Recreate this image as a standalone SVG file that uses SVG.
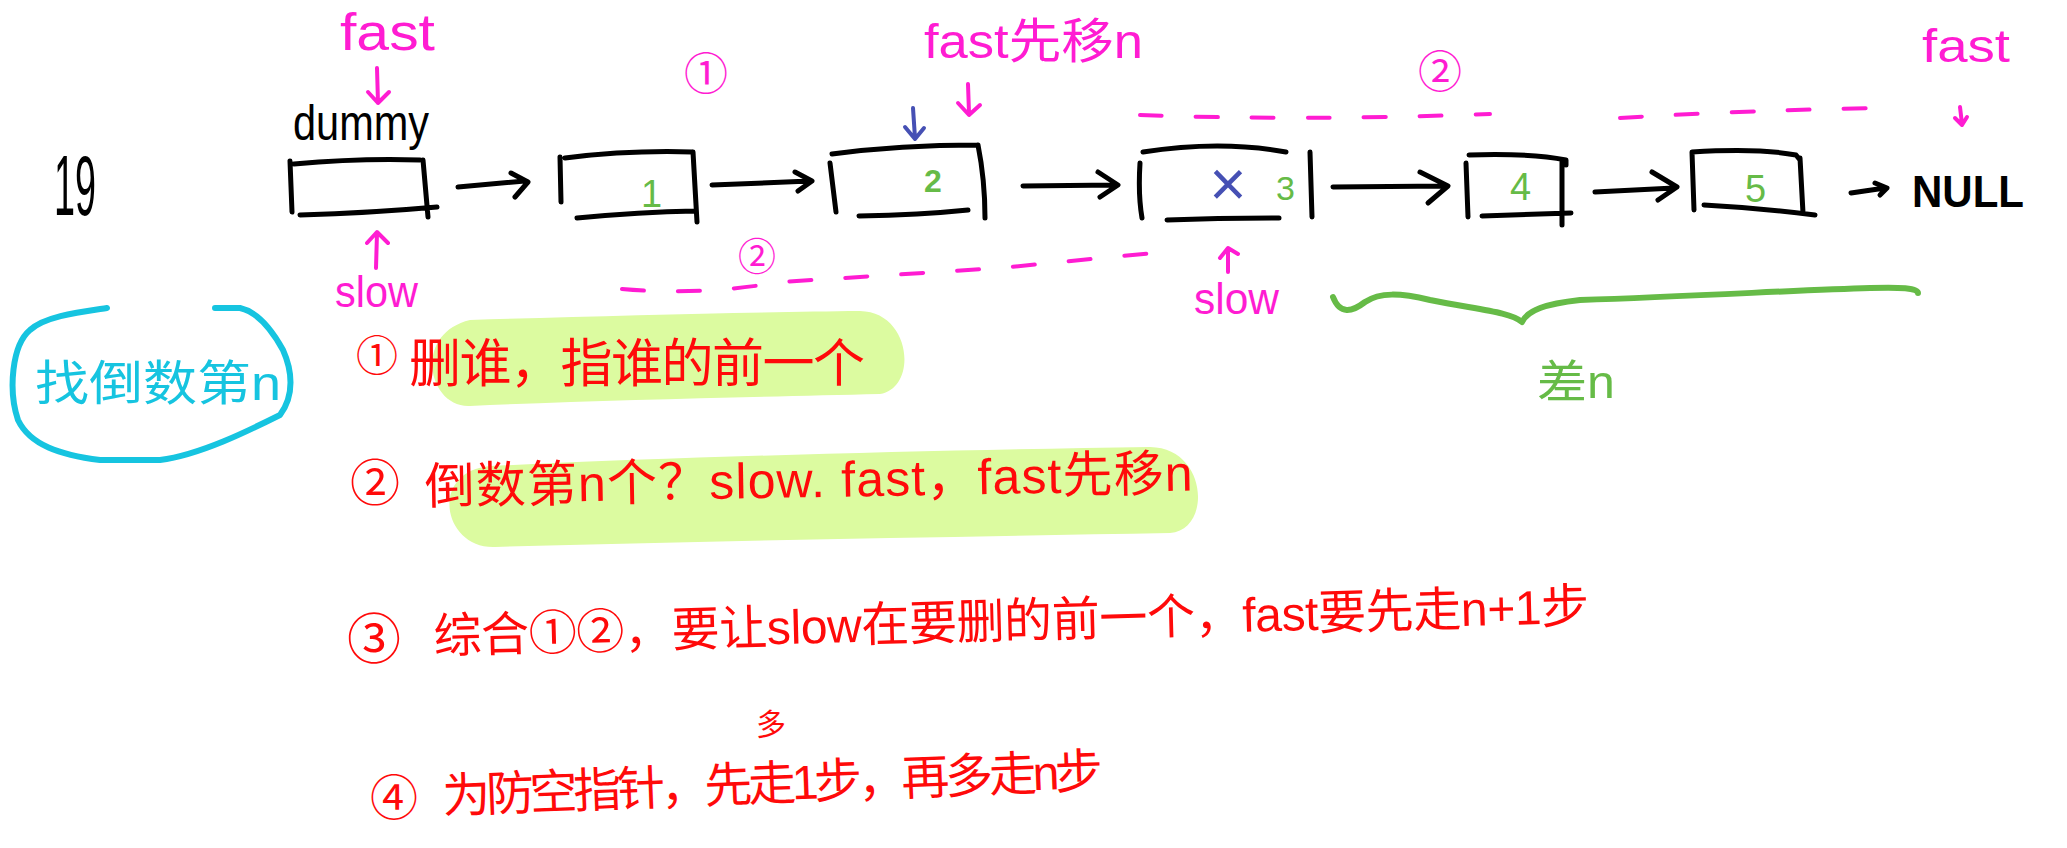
<svg xmlns="http://www.w3.org/2000/svg" width="2067" height="848" viewBox="0 0 2067 848">
<style>
.bx{fill:none;stroke:#000;stroke-width:5;stroke-linecap:round;stroke-linejoin:round}
.ar{fill:none;stroke:#000;stroke-width:5;stroke-linecap:round;stroke-linejoin:round}
.pk{fill:none;stroke:#FF1CD2;stroke-width:4;stroke-linecap:round;stroke-linejoin:round}
.dash{fill:none;stroke:#FF1CD2;stroke-width:4;stroke-linecap:round;stroke-dasharray:22 34}
.t{font-family:"Liberation Sans","Noto Sans CJK SC",sans-serif}
.cjk{font-family:"Noto Sans CJK SC","Liberation Sans",sans-serif}
.pkt{fill:#FF1CD2}
.red{fill:#FF0A0A}
.grn{fill:#66BB47}
</style>
<rect width="2067" height="848" fill="#fff"/>

<!-- highlights -->
<path d="M470,320 C600,316 760,312 860,311 C912,312 918,388 880,394 C760,397 600,400 470,406 C428,408 412,334 470,320 Z" fill="#DCFBA0"/>
<path d="M490,466 C700,456 950,450 1150,447 C1208,448 1212,530 1170,533 C950,537 700,541 495,547 C443,549 428,472 490,466 Z" fill="#DCFBA0"/>

<text class="t" x="54" y="215" font-size="86" textLength="42" lengthAdjust="spacingAndGlyphs">19</text>

<g id="node-dummy">
<path class="bx" d="M290,161 L292,212 M294,164 Q360,158 420,160 M423,160 L428,217 M300,215 Q370,213 437,207"/>
<text class="t" x="293" y="140" font-size="50" textLength="136" lengthAdjust="spacingAndGlyphs">dummy</text>
</g>
<g id="node-1">
<path class="bx" d="M560,157 L561,202 M565,158 Q630,150 692,152 M693,152 L697,222 M577,218 Q640,212 695,211"/>
<text class="t grn" x="641" y="207" font-size="38">1</text>
</g>
<g id="node-2">
<path class="bx" d="M830,163 L836,212 M832,154 Q900,145 978,145 M978,145 Q985,180 985,218 M859,216 Q920,215 968,210"/>
<text class="t grn" x="924" y="192" font-size="32" font-weight="bold">2</text>
</g>
<g id="node-3">
<path class="bx" d="M1140,163 Q1138,195 1142,218 M1143,152 Q1220,140 1286,152 M1310,152 L1312,217 M1167,220 Q1220,218 1279,218"/>
<text class="t" x="1228" y="206" font-size="64" text-anchor="middle" fill="#4650B4">×</text>
<text class="t grn" x="1276" y="200" font-size="34">3</text>
</g>
<g id="node-4">
<path class="bx" d="M1466,163 L1468,217 M1469,155 Q1530,153 1566,160 L1566,165 M1562,160 L1562,225 M1482,216 L1571,213"/>
<text class="t grn" x="1510" y="200" font-size="38">4</text>
</g>
<g id="node-5">
<path class="bx" d="M1692,152 L1694,210 M1692,152 Q1760,148 1796,155 L1800,160 M1800,158 L1803,213 M1704,205 Q1760,208 1815,215"/>
<text class="t grn" x="1745" y="202" font-size="38">5</text>
</g>
<g id="node-null">
<text class="t" x="1912" y="207" font-size="44" font-weight="bold" textLength="112" lengthAdjust="spacingAndGlyphs">NULL</text>
</g>

<g id="connectors">
<path class="ar" d="M458,187 L525,181 M511,173 L528,182 L515,197"/>
<path class="ar" d="M712,185 L810,181 M795,172 L812,181 L798,191"/>
<path class="ar" d="M1023,186 L1115,185 M1098,172 L1118,185 L1100,197"/>
<path class="ar" d="M1333,187 L1446,186 M1420,172 L1448,186 L1428,203"/>
<path class="ar" d="M1595,192 L1674,188 M1652,172 L1677,187 L1658,200"/>
<path class="ar" d="M1851,193 L1885,188 M1875,183 L1887,188 L1880,195"/>
</g>

<g id="pointers">
<path class="pk" d="M377,68 L378,103 M368,92 L378,103 L389,92"/>
<path class="pk" d="M376,268 L377,233 M367,243 L377,232 L388,243"/>
<path class="pk" d="M968,84 L969,113 M958,103 L969,115 L980,105"/>
<path class="pk" d="M1228,272 L1228,249 M1220,258 L1228,248 L1238,254"/>
<path class="pk" d="M1960,107 L1962,124 M1955,118 L1962,125 L1967,117"/>
<path fill="none" stroke="#4650B4" stroke-width="4" stroke-linecap="round" stroke-linejoin="round" d="M913,108 L915,138 M905,127 L915,139 L924,128"/>
<path class="dash" d="M1140,115 Q1300,121 1490,114"/>
<path class="dash" d="M1620,118 Q1750,110 1885,108"/>
<path class="dash" d="M622,289 Q700,296 781,282 L1000,268 L1163,252"/>
</g>

<g id="labels">
<text class="t pkt" x="340" y="50" font-size="52" textLength="95" lengthAdjust="spacingAndGlyphs">fast</text>
<text class="t pkt" x="335" y="307" font-size="44" textLength="83" lengthAdjust="spacingAndGlyphs">slow</text>
<text class="t pkt" x="924" y="58" font-size="48" textLength="219" lengthAdjust="spacingAndGlyphs">fast先移n</text>
<text class="t pkt" x="1194" y="314" font-size="44" textLength="85" lengthAdjust="spacingAndGlyphs">slow</text>
<text class="t pkt" x="1922" y="62" font-size="46" textLength="88" lengthAdjust="spacingAndGlyphs">fast</text>
<text class="cjk pkt" x="706" y="90" font-size="44" text-anchor="middle">①</text>
<text class="cjk pkt" x="1440" y="88" font-size="44" text-anchor="middle">②</text>
<text class="cjk pkt" x="757" y="270" font-size="38" text-anchor="middle">②</text>
</g>

<g id="brace">
<path fill="none" stroke="#66BB47" stroke-width="6" stroke-linecap="round" stroke-linejoin="round" d="M1333,297 C1340,315 1352,312 1365,302 C1380,292 1400,293 1430,300 C1480,310 1510,312 1522,322 C1528,310 1545,304 1580,300 C1700,296 1800,290 1870,288 C1900,287 1918,288 1918,293"/>
<text class="t grn" x="1537" y="398" font-size="46" textLength="78" lengthAdjust="spacingAndGlyphs">差n</text>
</g>

<g id="bubble">
<path fill="none" stroke="#16C4E0" stroke-width="6" stroke-linecap="round" d="M107,308 C80,312 45,316 30,330 C12,345 8,390 18,420 C30,445 60,455 100,460 L160,460 C200,455 250,430 280,415 C295,395 292,370 283,350 C272,330 258,312 240,308 L215,308"/>
<text class="t" x="35" y="400" font-size="48" fill="#16C4E0" textLength="246" lengthAdjust="spacingAndGlyphs">找倒数第n</text>
</g>

<g id="notes">
<text class="cjk red" x="377" y="371" font-size="42" text-anchor="middle">①</text>
<text class="t red" x="409" y="382" font-size="52" textLength="456" lengthAdjust="spacing">删谁，指谁的前一个</text>
<text class="cjk red" x="375" y="501" font-size="50" text-anchor="middle">②</text>
<text class="t red" x="425" y="504" font-size="50" textLength="768" lengthAdjust="spacing" transform="rotate(-1 425 504)">倒数第n个？slow. fast，fast先移n</text>
<text class="cjk red" x="374" y="659" font-size="54" text-anchor="middle">③</text>
<text class="t red" x="434" y="653" font-size="48" textLength="1156" lengthAdjust="spacing" transform="rotate(-1.5 434 653)">综合①②，要让slow在要删的前一个，fast要先走n+1步</text>
<text class="cjk red" x="394" y="815" font-size="48" text-anchor="middle">④</text>
<text class="t red" x="443" y="813" font-size="48" textLength="661" lengthAdjust="spacing" transform="rotate(-2.2 443 813)">为防空指针，先走1步，再多走n步</text>
<text class="t red" x="771" y="735" font-size="30" text-anchor="middle">多</text>
</g>
</svg>
